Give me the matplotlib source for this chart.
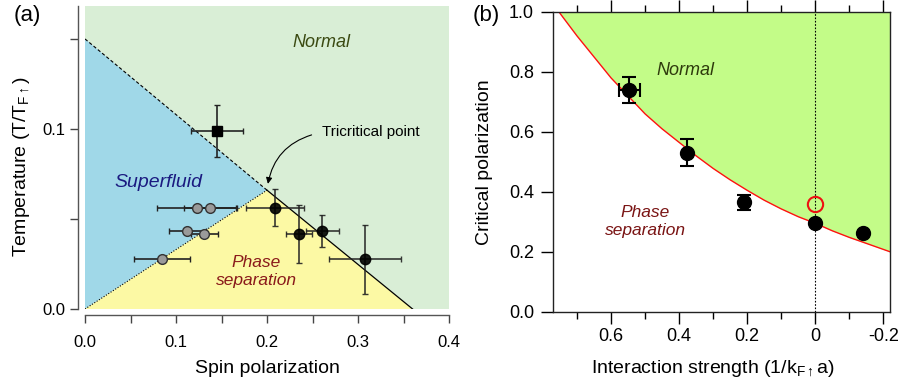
import numpy as np
import matplotlib
matplotlib.use("Agg")
import matplotlib.pyplot as plt
from matplotlib.ticker import MultipleLocator, FixedLocator

plt.rcParams['font.family'] = ['Liberation Sans', 'DejaVu Sans']
plt.rcParams['mathtext.fontset'] = 'custom'
plt.rcParams['mathtext.rm'] = 'Liberation Sans'
plt.rcParams['mathtext.it'] = 'Liberation Sans:italic'

# ---- panel (a) data ----
# phase boundaries
tc_x, tc_y = 0.2, 0.066          # tricritical point
sf_top_y = 0.15                  # superfluid/normal line at P = 0
ps_end_x = 0.36                  # phase separation / normal line at T = 0

sq_x = [0.145]
sq_y = [0.099]
sq_xerr = [0.029]
sq_yerr = [0.0145]

gray_x = [0.1227, 0.1374, 0.1125, 0.131, 0.0843]
gray_y = [0.0563, 0.0563, 0.0433, 0.0417, 0.0276]
gray_xerr = [0.044, 0.029, 0.020, 0.015, 0.031]

black_x = [0.209, 0.2352, 0.2608, 0.3077]
black_y = [0.0563, 0.0415, 0.0433, 0.0276]
black_xerr = [0.032, 0.0147, 0.018, 0.040]
black_yerr = [0.0104, 0.016, 0.0088, 0.019]

x_ticks_a = [0.0, 0.1, 0.2, 0.3, 0.4]
y_ticks_a = [0.0, 0.1]

# ---- panel (b) data ----
curve_x = [0.753, 0.70, 0.65, 0.60, 0.55, 0.50, 0.45, 0.40, 0.35, 0.30, 0.25,
           0.20, 0.15, 0.10, 0.05, 0.00, -0.05, -0.10, -0.15, -0.2197]
curve_y = [1.00, 0.92, 0.85, 0.78, 0.72, 0.66, 0.61, 0.565, 0.52, 0.478, 0.44,
           0.405, 0.372, 0.343, 0.317, 0.295, 0.270, 0.248, 0.228, 0.200]

pc_x = [0.546, 0.377, 0.21, 0.0, -0.141]
pc_y = [0.739, 0.53, 0.365, 0.297, 0.261]
pc_xerr = [0.03, 0.0, 0.0, 0.0, 0.0]
pc_yerr = [0.044, 0.045, 0.025, 0.0, 0.0]

open_x = [0.0]
open_y = [0.361]

x_ticks_b = [0.6, 0.4, 0.2, 0.0, -0.2]
x_labels_b = ['0.6', '0.4', '0.2', '0', '-0.2']
y_ticks_b = [0.0, 0.2, 0.4, 0.6, 0.8, 1.0]

fig = plt.figure(figsize=(8.98, 3.87), dpi=100)

# ================= (a) =================
ax = fig.add_axes([85/898, 1-309/387, 364/898, 303/387])
ax.set_xlim(0, 0.4)
ax.set_ylim(0, 0.1683)

ax.fill([0, 0, 1], [sf_top_y, 1, 1], color='#d9eed6', lw=0)
ax.fill([0, tc_x, ps_end_x, 1, 1, 0], [sf_top_y, tc_y, 0, 0, 1, 1], color='#d9eed6', lw=0)
ax.fill([0, 0, tc_x], [0, sf_top_y, tc_y], color='#a0d8e8', lw=0)
ax.fill([0, tc_x, ps_end_x], [0, tc_y, 0], color='#fcf9a4', lw=0)

ax.plot([0, tc_x], [sf_top_y, tc_y], color='k', lw=0.8, ls=(0, (3, 2)))
ax.plot([0, tc_x], [0, tc_y], color='k', lw=0.8, ls=(0, (1, 1.5)))
ax.plot([tc_x, ps_end_x], [tc_y, 0], color='k', lw=0.9)

ax.errorbar(gray_x, gray_y, xerr=gray_xerr, fmt='o', ms=7, mfc='#9a9a9a', mec='#333333',
            mew=1.0, ecolor='#222222', elinewidth=1.2, capsize=2.5, capthick=1.0, zorder=4)
ax.errorbar(black_x, black_y, xerr=black_xerr, yerr=black_yerr, fmt='o', ms=7.5, mfc='k',
            mec='k', ecolor='#222222', elinewidth=1.2, capsize=2.5, capthick=1.0, zorder=4, alpha=0.9)
ax.errorbar(sq_x, sq_y, xerr=sq_xerr, yerr=sq_yerr, fmt='s', ms=7, mfc='k', mec='k',
            ecolor='#222222', elinewidth=1.2, capsize=2.5, capthick=1.0, zorder=4)

ax.text(0.26, 0.0985, 'Tricritical point', fontsize=11, va='center', ha='left')
ax.annotate('', xy=(0.201, 0.0695), xytext=(0.249, 0.0967),
            arrowprops=dict(arrowstyle='-|>', color='k', lw=0.8, mutation_scale=9,
                            connectionstyle='arc3,rad=0.3', shrinkA=0, shrinkB=0))

ax.text(0.26, 0.148, 'Normal', fontsize=13, style='italic', color='#3b4a12', ha='center', va='center')
ax.text(0.0805, 0.0705, 'Superfluid', fontsize=14, style='italic', color='#1a1a80', ha='center', va='center')
ax.text(0.1885, 0.0207, 'Phase\nseparation', fontsize=12.5, style='italic', color='#8a1a1a',
        ha='center', va='center', linespacing=1.25)

for s in ['top', 'right']:
    ax.spines[s].set_visible(False)
ax.spines['left'].set_position(('outward', 5))
ax.spines['bottom'].set_position(('outward', 4.5))
for s in ['left', 'bottom']:
    ax.spines[s].set_color('#555555')
    ax.spines[s].set_linewidth(1.0)
ax.xaxis.set_major_locator(FixedLocator(x_ticks_a))
ax.xaxis.set_minor_locator(MultipleLocator(0.05))
ax.yaxis.set_major_locator(FixedLocator(y_ticks_a))
ax.yaxis.set_minor_locator(FixedLocator([0.05, 0.15]))
ax.set_xticklabels(['%.1f' % v for v in x_ticks_a])
ax.set_yticklabels(['%.1f' % v for v in y_ticks_a])
ax.tick_params(which='both', direction='out', length=6, width=1.0, color='#444444', labelsize=12)
ax.tick_params(axis='x', pad=8)
ax.tick_params(axis='y', pad=3)
ax.set_xlabel('Spin polarization', fontsize=14)
ax.xaxis.set_label_coords(0.5, -0.168)
ax.set_ylabel(r'Temperature (T/T$_{\mathrm{F}\uparrow}$)', fontsize=14)
ax.yaxis.set_label_coords(-0.146, 0.47)
fig.text(27/898, 1-15/387, '(a)', fontsize=16, ha='center', va='center')

# ================= (b) =================
bx = fig.add_axes([552.7/898, 1-311.7/387, 337.3/898, 299.7/387])
bx.set_xlim(0.7715, -0.2197)
bx.set_ylim(0, 1.0)

bx.fill_between(curve_x, curve_y, 1.0, color='#c3fc88', lw=0)
bx.plot(curve_x, curve_y, color='#ff1010', lw=1.0)
bx.axvline(0, color='k', lw=0.8, ls=(0, (1.5, 1.5)))

bx.errorbar(pc_x, pc_y, xerr=pc_xerr, yerr=pc_yerr, fmt='o', ms=10, mfc='k', mec='k',
            ecolor='k', elinewidth=1.5, capsize=5, capthick=1.5, zorder=4)
bx.plot(open_x, open_y, 'o', ms=11, mfc='none', mec='#ee1111', mew=1.5, zorder=5)

bx.text(0.38, 0.805, 'Normal', fontsize=13, style='italic', color='#2e3a0c', ha='center', va='center')
bx.text(0.5, 0.3, 'Phase\nseparation', fontsize=12.5, style='italic', color='#7a1414',
        ha='center', va='center', linespacing=1.25)

for s in bx.spines.values():
    s.set_linewidth(1.0)
    s.set_color('#222222')
bx.xaxis.set_major_locator(FixedLocator(x_ticks_b))
bx.xaxis.set_minor_locator(FixedLocator([0.7, 0.5, 0.3, 0.1, -0.1]))
bx.set_xticklabels(x_labels_b)
bx.yaxis.set_major_locator(FixedLocator(y_ticks_b))
bx.set_yticklabels(['%.1f' % v for v in y_ticks_b])
bx.tick_params(which='major', direction='out', length=8.5, width=1.0, labelsize=13)
bx.tick_params(which='minor', direction='out', length=5, width=1.0)
bx.tick_params(axis='x', which='both', top=True, pad=3)
bx.tick_params(axis='y', pad=5)
bx.set_xlabel(r'Interaction strength (1/k$_{\mathrm{F}\uparrow}$a)', fontsize=14)
bx.xaxis.set_label_coords(0.474, -0.155)
bx.set_ylabel('Critical polarization', fontsize=14)
bx.yaxis.set_label_coords(-0.177, 0.5)
fig.text(486.7/898, 1-15/387, '(b)', fontsize=16, ha='center', va='center')

fig.savefig('out.png', dpi=100)
